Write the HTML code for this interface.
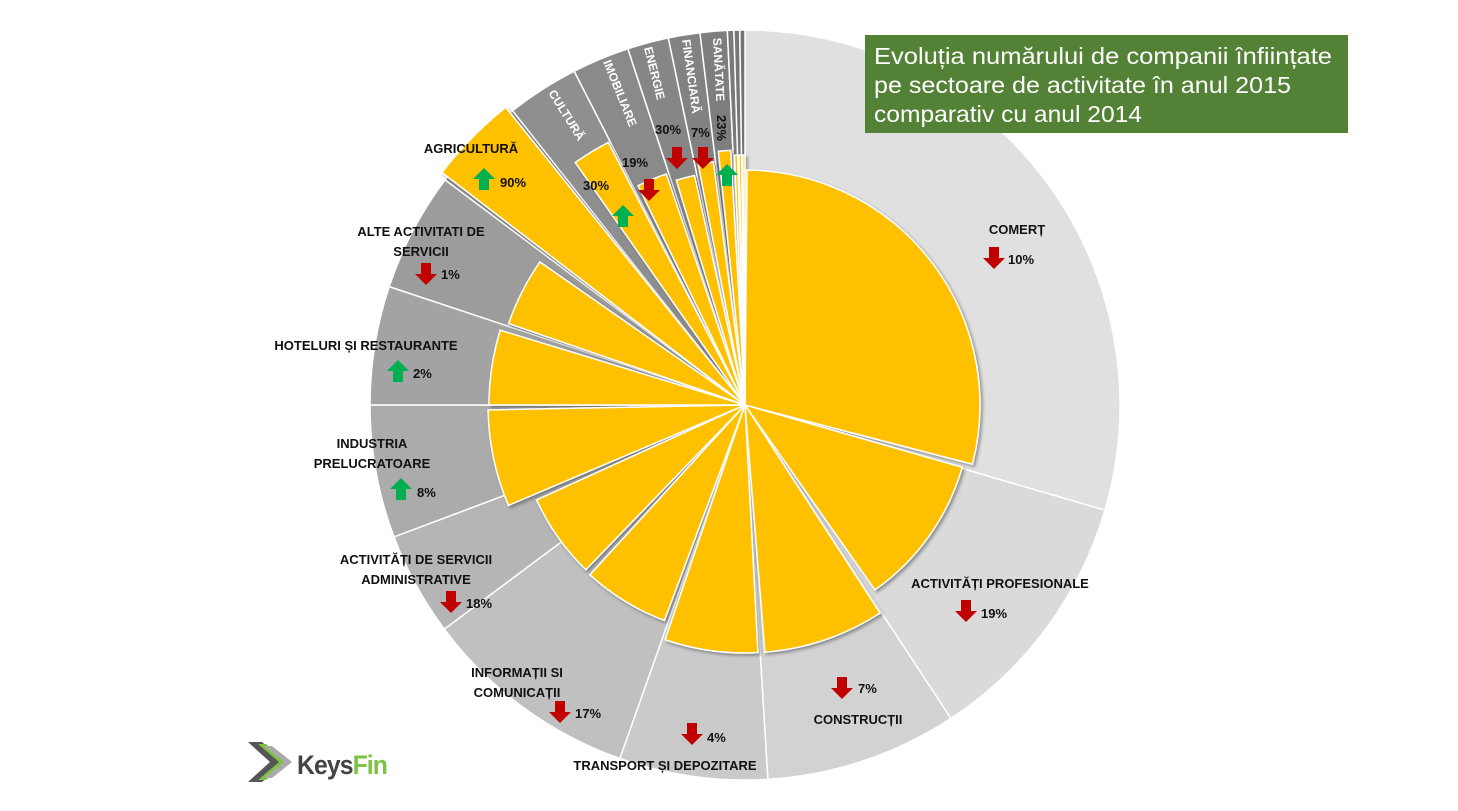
<!DOCTYPE html>
<html><head><meta charset="utf-8"><style>
body{margin:0;background:#fff;width:1458px;height:811px;overflow:hidden;font-family:"Liberation Sans",sans-serif}
</style></head><body>
<svg id="s" width="1458" height="811" xmlns="http://www.w3.org/2000/svg" style="position:absolute;left:0;top:0">
<defs><filter id="sh" x="-20%" y="-20%" width="140%" height="140%"><feDropShadow dx="2" dy="2" stdDeviation="1.5" flood-color="#000" flood-opacity="0.35"/></filter></defs>
<g id="outer"></g><g id="inner" filter="url(#sh)"></g><g id="lab"></g>
<rect x="865" y="35" width="483" height="98" fill="#538135"/>
<text x="874" y="64" fill="#fff" font-size="23" textLength="458" lengthAdjust="spacingAndGlyphs">Evoluția numărului de companii înființate</text>
<text x="874" y="93" fill="#fff" font-size="23" textLength="417" lengthAdjust="spacingAndGlyphs">pe sectoare de activitate în anul 2015</text>
<text x="874" y="122" fill="#fff" font-size="23" textLength="268" lengthAdjust="spacingAndGlyphs">comparativ cu anul 2014</text>
<g>
<path d="M248 742 L262 742 L285 762 L262 782 L248 782 L270 762Z" fill="#555"/>
<path d="M258 744 L266 744 L288 762 L266 780 L258 780 L279 762Z" fill="#7dc242"/>
<path d="M264 746 L272 746 L292 762 L272 778 L264 778 L284 762Z" fill="#aaa"/>
<text x="297" y="774" font-size="27" font-weight="bold" fill="#444" letter-spacing="-1" textLength="90" lengthAdjust="spacingAndGlyphs">Keys<tspan fill="#7dc242">Fin</tspan></text>
</g>
</svg>
<script>
const cx=745,cy=405,R=375;
function pt(a,r){const t=a*Math.PI/180;return [cx+r*Math.sin(t),cy-r*Math.cos(t)];}
function wedge(a0,a1,r,fill,g){const p0=pt(a0,r),p1=pt(a1,r);const large=(a1-a0)>180?1:0;
const e=document.createElementNS("http://www.w3.org/2000/svg","path");
e.setAttribute("d",`M${cx} ${cy} L${p0[0]} ${p0[1]} A${r} ${r} 0 ${large} 1 ${p1[0]} ${p1[1]}Z`);
e.setAttribute("fill",fill);e.setAttribute("stroke","#fff");e.setAttribute("stroke-width","1.5");document.getElementById(g).appendChild(e);}
const outer=[[0,106.3,"#e0e0e0"],[106.3,146.7,"#dadada"],[146.7,176.5,"#d2d2d2"],[176.5,199.5,"#cacaca"],[199.5,233.3,"#c0c0c0"],[233.3,249.4,"#b5b5b5"],[249.4,270,"#ababab"],[270,288.4,"#a3a3a3"],[288.4,306.9,"#9c9c9c"],[306.9,321.7,"#959595"],[321.7,332.9,"#8f8f8f"],[332.9,341.8,"#8a8a8a"],[341.8,348.2,"#868686"],[348.2,353.1,"#828282"],[353.1,357.3,"#7e7e7e"],[357.3,358.3,"#7a7a7a"],[358.3,359.2,"#777"],[359.2,360,"#737373"]];
outer.forEach(o=>wedge(o[0],o[1],R,o[2],"outer"));
const inner=[[0.5,104.6,235],[106,144.9,226],[147,175.4,248],[177,198.8,248],[200.5,222.4,230],[224,245.5,229],[247,268.9,257],[270,287,256],[289,304.9,250],[307.5,321.2,382],[325,332.5,296],[334,341.2,244],[343,347.6,235],[349,352.6,245],[354,356.8,255],[357.6,358.3,250],[358.6,359.2,250],[359.5,360,250]];
inner.forEach(o=>wedge(o[0],o[1],o[2],"#ffc000","inner"));
const L=document.getElementById("lab");
function t(x,y,s,opt={}){const e=document.createElementNS("http://www.w3.org/2000/svg","text");e.setAttribute("x",x);e.setAttribute("y",y);
e.setAttribute("font-size",opt.fs||13);e.setAttribute("font-weight","bold");e.setAttribute("fill",opt.fill||"#111");
if(opt.anchor)e.setAttribute("text-anchor",opt.anchor);if(opt.rot!==undefined)e.setAttribute("transform",`rotate(${opt.rot} ${x} ${y})`);e.textContent=s;L.appendChild(e);}
function arrow(x,y,up){const e=document.createElementNS("http://www.w3.org/2000/svg","path");
const d=up?`M${x} ${y-11} L${x+11} ${y} L${x+5} ${y} L${x+5} ${y+11} L${x-5} ${y+11} L${x-5} ${y} L${x-11} ${y}Z`:`M${x} ${y+11} L${x+11} ${y} L${x+5} ${y} L${x+5} ${y-11} L${x-5} ${y-11} L${x-5} ${y} L${x-11} ${y}Z`;
e.setAttribute("d",d);e.setAttribute("fill",up?"#00b050":"#c00000");L.appendChild(e);}
t(1017,234,"COMERȚ",{anchor:"middle"});arrow(994,258,false);t(1008,264,"10%");
t(1000,588,"ACTIVITĂȚI PROFESIONALE",{anchor:"middle"});arrow(966,611,false);t(981,618,"19%");
arrow(842,688,false);t(858,693,"7%");t(858,724,"CONSTRUCȚII",{anchor:"middle"});
arrow(692,734,false);t(707,742,"4%");t(665,770,"TRANSPORT ȘI DEPOZITARE",{anchor:"middle"});
t(517,677,"INFORMAȚII SI",{anchor:"middle"});t(517,697,"COMUNICAȚII",{anchor:"middle"});arrow(560,712,false);t(575,718,"17%");
t(416,564,"ACTIVITĂȚI DE SERVICII",{anchor:"middle"});t(416,584,"ADMINISTRATIVE",{anchor:"middle"});arrow(451,602,false);t(466,608,"18%");
t(372,448,"INDUSTRIA",{anchor:"middle"});t(372,468,"PRELUCRATOARE",{anchor:"middle"});arrow(401,489,true);t(417,497,"8%");
t(366,350,"HOTELURI ȘI RESTAURANTE",{anchor:"middle"});arrow(398,371,true);t(413,378,"2%");
t(421,236,"ALTE ACTIVITATI DE",{anchor:"middle"});t(421,256,"SERVICII",{anchor:"middle"});arrow(426,274,false);t(441,279,"1%");
t(471,153,"AGRICULTURĂ",{anchor:"middle"});arrow(484,179,true);t(500,187,"90%");
t(583,190,"30%");arrow(623,216,true);
t(622,167,"19%");arrow(649,190,false);
t(655,134,"30%");arrow(677,158,false);
t(691,137,"7%");arrow(703,158,false);
t(717,115,"23%",{rot:90});arrow(727,175,true);
t(548,93,"CULTURĂ",{fill:"#fff",rot:58,fs:12});
t(603,62,"IMOBILIARE",{fill:"#fff",rot:68,fs:12});
t(644,48,"ENERGIE",{fill:"#fff",rot:76,fs:12});
t(682,40,"FINANCIARĂ",{fill:"#fff",rot:82,fs:12});
t(713,38,"SANĂTATE",{fill:"#fff",rot:87,fs:12});
</script>
</body></html>
